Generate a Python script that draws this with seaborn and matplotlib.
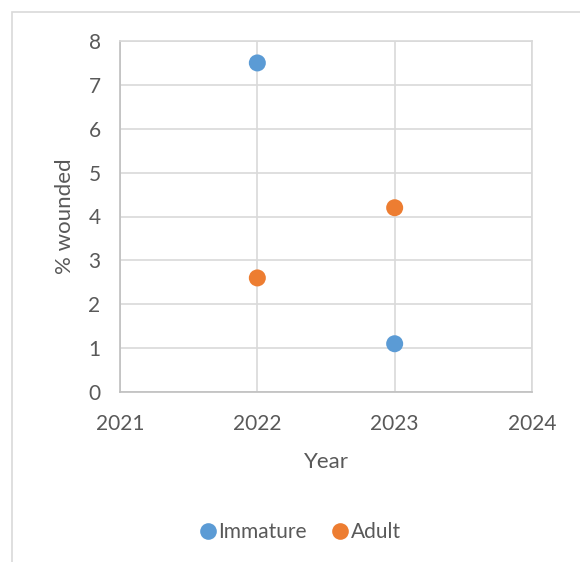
import matplotlib
matplotlib.use("Agg")
import matplotlib.pyplot as plt
import seaborn as sns
import pandas as pd
from matplotlib.patches import Rectangle
from matplotlib.lines import Line2D

years = [2022, 2023]
immature = [7.5, 1.1]
adult = [2.6, 4.2]
series = ["Immature", "Adult"]
colors = ["#5B9BD5", "#ED7D31"]

df = pd.DataFrame({
    "Year": years + years,
    "value": immature + adult,
    "Group": [series[0]] * len(years) + [series[1]] * len(years),
})

sns.set_theme(style="white")
plt.rcParams["font.family"] = ["Lato", "DejaVu Sans"]

fig = plt.figure(figsize=(5.8, 5.62), dpi=100)
ax = fig.add_axes([120 / 580, 1 - 392 / 562, 412 / 580, 351 / 562])

sns.scatterplot(data=df, x="Year", y="value", hue="Group", palette=colors,
                s=150, edgecolor="none", ax=ax, legend=False, zorder=3)

ax.set_xlim(2021, 2024)
ax.set_ylim(0, 8)
ax.set_xticks([2021, 2022, 2023, 2024])
ax.set_yticks(range(0, 9))
ax.grid(True, color="#d9d9d9", linewidth=1.2, zorder=0)
ax.set_axisbelow(True)
for s in ["top", "right"]:
    ax.spines[s].set_color("#d9d9d9")
    ax.spines[s].set_linewidth(1.2)
for s in ["left", "bottom"]:
    ax.spines[s].set_color("#bfbfbf")
    ax.spines[s].set_linewidth(1.2)
ax.tick_params(axis="both", length=0, labelsize=15, colors="#595959")
ax.tick_params(axis="x", pad=16)
ax.tick_params(axis="y", pad=14)
ax.set_xlabel("Year", fontsize=16, color="#595959", labelpad=13)
ax.set_ylabel("% wounded", fontsize=16, color="#595959", labelpad=10)

handles = [Line2D([0], [0], marker="o", linestyle="none", markersize=12,
                  markerfacecolor=c, markeredgecolor="none") for c in colors]
leg = fig.legend(handles, series, loc="center", bbox_to_anchor=(299 / 580, 1 - 532 / 562),
                 ncol=2, frameon=False, fontsize=15, handletextpad=0.0,
                 handlelength=1.0, columnspacing=1.1, borderaxespad=0)
for t in leg.get_texts():
    t.set_color("#595959")

fig.patches.append(Rectangle((12 / 580, -0.1), 1.2, 1 - 12 / 562 + 0.1,
                             transform=fig.transFigure, fill=False,
                             edgecolor="#d9d9d9", linewidth=1.2))

fig.savefig("out.png", dpi=100)
